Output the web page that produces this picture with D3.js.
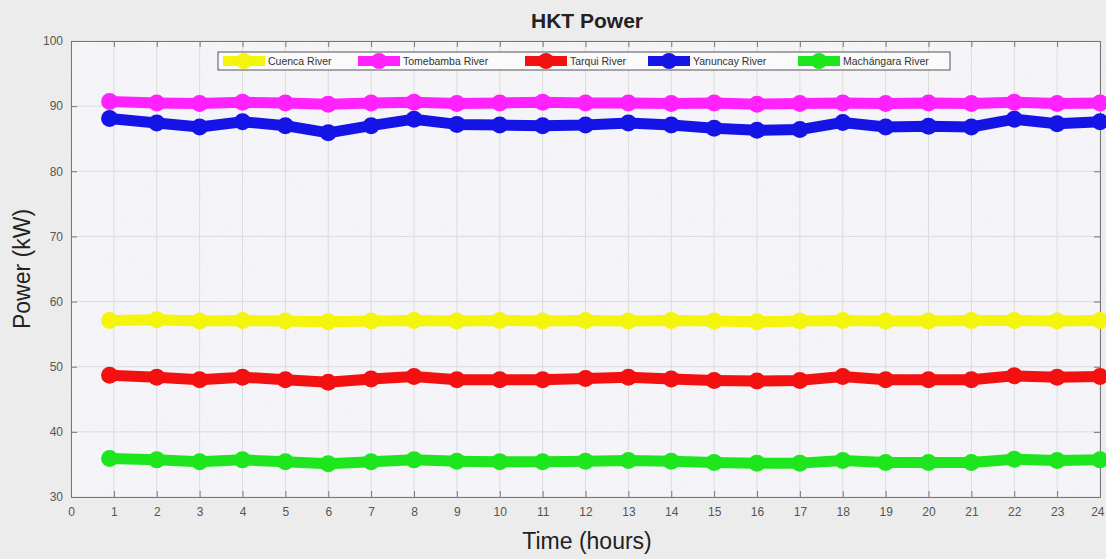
<!DOCTYPE html>
<html><head><meta charset="utf-8">
<script src="https://cdn.jsdelivr.net/npm/d3@7"></script>
<style>body{margin:0;background:#efefef;}svg{display:block;font-family:"Liberation Sans",Arial,sans-serif;}</style>
</head><body><svg id="c" width="1106" height="559"></svg>
<script>
const hours = [0.9,2,3,4,5,6,7,8,9,10,11,12,13,14,15,16,17,18,19,20,21,22,23,24];
const seriesNames = ["Cuenca River","Tomebamba River","Tarqui River","Yanuncay River","Machángara River"];
const seriesColors = ["#f4f40c","#ff22ff","#f21010","#1414e6","#1ee61e"];
const cuenca = [57.1,57.2,57.0,57.1,57.0,56.9,57.0,57.1,57.0,57.1,57.0,57.1,57.0,57.1,57.0,56.9,57.0,57.1,57.0,57.0,57.1,57.1,57.0,57.1];
const tomebamba = [90.7,90.5,90.4,90.6,90.5,90.3,90.5,90.6,90.4,90.5,90.6,90.5,90.5,90.4,90.5,90.3,90.4,90.5,90.4,90.5,90.4,90.6,90.4,90.5];
const tarqui = [48.7,48.4,48.0,48.4,48.0,47.6,48.1,48.5,48.0,48.0,48.0,48.2,48.4,48.1,47.9,47.8,47.9,48.5,48.0,48.0,48.0,48.6,48.4,48.5];
const yanuncay = [88.1,87.4,86.8,87.6,87.0,85.9,87.0,88.0,87.2,87.1,87.0,87.1,87.4,87.1,86.6,86.3,86.4,87.5,86.8,86.9,86.8,88.0,87.3,87.6];
const machangara = [35.9,35.7,35.4,35.7,35.4,35.1,35.4,35.7,35.5,35.4,35.4,35.5,35.6,35.5,35.3,35.2,35.2,35.6,35.3,35.3,35.3,35.8,35.6,35.7];
const seriesValues = [cuenca,tomebamba,tarqui,yanuncay,machangara];
const xTicks = d3.range(0,25);
const yTicks = [30,40,50,60,70,80,90,100];

const svg = d3.select("#c");
const defs = svg.append("defs");
const f = defs.append("filter").attr("id","noise").attr("x",0).attr("y",0).attr("width","100%").attr("height","100%");
f.append("feTurbulence").attr("type","fractalNoise").attr("baseFrequency",0.9).attr("numOctaves",2).attr("result","n");
f.append("feColorMatrix").attr("type","matrix").attr("values","0 0 0 0 0.5  0 0 0 0 0.5  0 0 0 0 0.5  0 0 0 0.12 0");
svg.append("rect").attr("width",1106).attr("height",559).attr("fill","#efefef");

const L=71,R=1100,T=41,B=497;
const x = d3.scaleLinear().domain([0,24]).range([L,R]);
const y = d3.scaleLinear().domain([30,100]).range([B,T]);

svg.append("rect").attr("x",L).attr("y",T).attr("width",R-L).attr("height",B-T).attr("fill","#f8f7fb");
svg.append("rect").attr("width",1106).attr("height",559).attr("filter","url(#noise)");

const g = svg.append("g");
g.selectAll(".gx").data(xTicks).join("line").attr("x1",d=>x(d)).attr("x2",d=>x(d)).attr("y1",T).attr("y2",B).attr("stroke","#dcdcdc").attr("stroke-width",1);
g.selectAll(".gy").data(yTicks).join("line").attr("y1",d=>y(d)).attr("y2",d=>y(d)).attr("x1",L).attr("x2",R).attr("stroke","#dcdcdc").attr("stroke-width",1);

const ax = svg.append("g").attr("transform",`translate(0,${B})`).call(d3.axisBottom(x).tickValues(xTicks).tickSize(-6).tickPadding(10).tickFormat(d3.format("d")));
const axT = svg.append("g").attr("transform",`translate(0,${T})`).call(d3.axisTop(x).tickValues(xTicks).tickSize(-6).tickFormat(""));
const ay = svg.append("g").attr("transform",`translate(${L},0)`).call(d3.axisLeft(y).tickValues(yTicks).tickSize(-6).tickPadding(8));
const ayR = svg.append("g").attr("transform",`translate(${R},0)`).call(d3.axisRight(y).tickValues(yTicks).tickSize(-6).tickFormat(""));
[ax,axT,ay,ayR].forEach(a=>{a.selectAll("path").attr("stroke","#777");a.selectAll("line").attr("stroke","#777");a.selectAll("text").attr("fill","#555").attr("font-size",12);});
ax.selectAll(".tick text").filter(d=>d===24).attr("text-anchor","end").attr("dx",4);

const line = d3.line().x((d,i)=>x(hours[i])).y(d=>y(d));
seriesValues.forEach((vals,k)=>{
  const c = seriesColors[k];
  svg.append("path").attr("d",line(vals)).attr("fill","none").attr("stroke",c).attr("stroke-width",11).attr("stroke-linejoin","round");
  svg.append("g").selectAll("circle").data(vals).join("circle").attr("cx",(d,i)=>x(hours[i])).attr("cy",d=>y(d)).attr("r",8.5).attr("fill",c);
});

const lg = svg.append("g");
lg.append("rect").attr("x",218).attr("y",52).attr("width",732).attr("height",18).attr("fill","#fafafa").attr("stroke","#555").attr("stroke-width",1);
const legX = [220,355,522,645,795];
seriesNames.forEach((n,k)=>{
  const x0 = legX[k];
  lg.append("line").attr("x1",x0+3).attr("x2",x0+45).attr("y1",61).attr("y2",61).attr("stroke",seriesColors[k]).attr("stroke-width",10);
  lg.append("circle").attr("cx",x0+24).attr("cy",61).attr("r",8).attr("fill",seriesColors[k]);
  lg.append("text").attr("x",x0+48).attr("y",65).attr("font-size",10.5).attr("fill","#333").text(n);
});

svg.append("text").attr("x",587).attr("y",28).attr("text-anchor","middle").attr("font-size",21).attr("font-weight","bold").attr("fill","#222").text("HKT Power");
svg.append("text").attr("x",587).attr("y",549).attr("text-anchor","middle").attr("font-size",23).attr("fill","#222").text("Time (hours)");
svg.append("text").attr("transform","translate(30,269) rotate(-90)").attr("text-anchor","middle").attr("font-size",23).attr("fill","#222").text("Power (kW)");
</script></body></html>
